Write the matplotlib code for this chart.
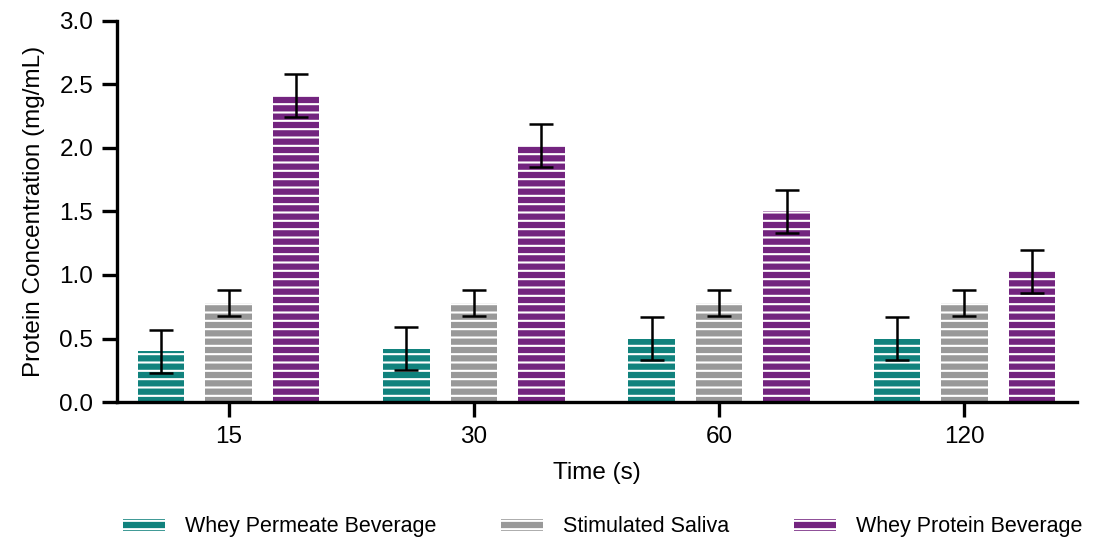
import numpy as np
import matplotlib
matplotlib.use("Agg")
import matplotlib.pyplot as plt

plt.rcParams["font.family"] = ["Liberation Sans", "DejaVu Sans"]
plt.rcParams["hatch.linewidth"] = 1.5

# Protein concentration per time point (mean and error)
times = ["15", "30", "60", "120"]
series = ["Whey Permeate Beverage", "Stimulated Saliva", "Whey Protein Beverage"]
permeate = [0.40, 0.42, 0.50, 0.50]
permeate_err = [0.17, 0.17, 0.17, 0.17]
saliva = [0.78, 0.78, 0.78, 0.78]
saliva_err = [0.10, 0.10, 0.10, 0.10]
protein = [2.41, 2.02, 1.50, 1.03]
protein_err = [0.17, 0.17, 0.17, 0.17]

colors = ["#11827d", "#999999", "#73247f"]
means = [permeate, saliva, protein]
errs = [permeate_err, saliva_err, protein_err]

fig = plt.figure(figsize=(10.93, 5.42), dpi=100)
ax = fig.add_axes([0.107, 0.258, 0.878, 0.704])

x = np.arange(len(times))
width = 0.19
offsets = [-0.275, 0, 0.275]

for i in range(3):
    ax.bar(x + offsets[i], means[i], width, color=colors[i], edgecolor="white",
           linewidth=0, hatch="--", label=series[i], zorder=2)
    ax.errorbar(x + offsets[i], means[i], yerr=errs[i], fmt="none", ecolor="black",
                elinewidth=1.8, capsize=8.3, capthick=1.8, zorder=3)

ax.set_xlim(-0.455, 3.457)
ax.set_ylim(0, 3.0)
ax.set_yticks([0, 0.5, 1.0, 1.5, 2.0, 2.5, 3.0])
ax.set_yticklabels(["0.0", "0.5", "1.0", "1.5", "2.0", "2.5", "3.0"])
ax.set_xticks(x)
ax.set_xticklabels(times)

for side in ["top", "right"]:
    ax.spines[side].set_visible(False)
for side in ["left", "bottom"]:
    ax.spines[side].set_linewidth(2.4)
ax.tick_params(axis="both", direction="out", length=11, width=2.4, labelsize=17.5, pad=6)

ax.set_xlabel("Time (s)", fontsize=17.5, labelpad=10)
ax.set_ylabel("Protein Concentration (mg/mL)", fontsize=17.5, labelpad=10)

ax.legend(loc="center", bbox_to_anchor=(0.506, -0.327), ncol=3, frameon=False,
          fontsize=15.5, handlelength=1.95, handleheight=0.5, handletextpad=0.93,
          columnspacing=3.0)

fig.savefig("out.png", dpi=100)
